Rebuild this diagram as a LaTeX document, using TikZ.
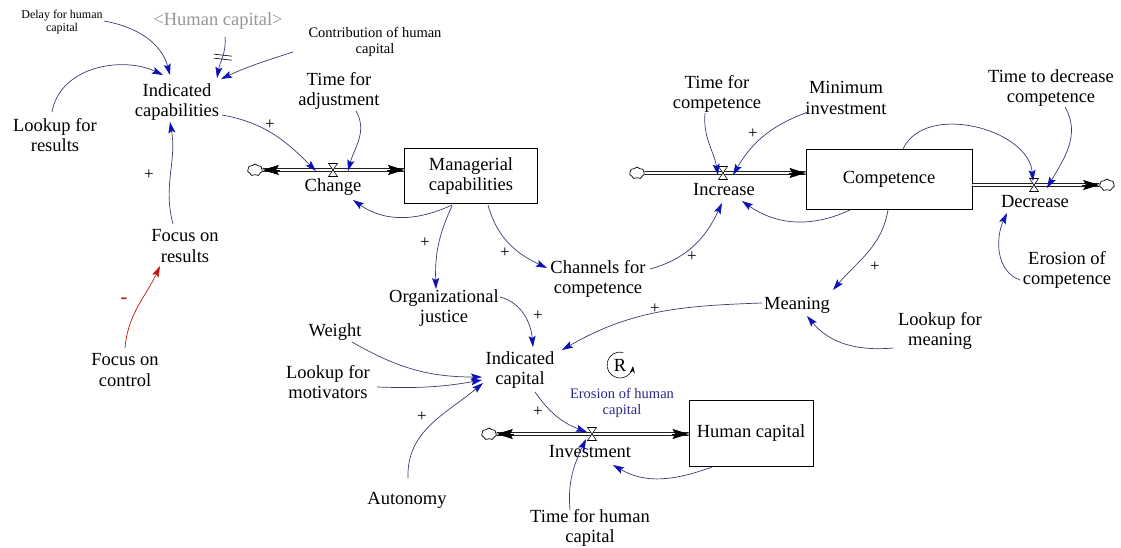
\documentclass[tikz,border=0pt]{standalone}
\usepackage{fontspec}
\setmainfont{LiberationSerif}[Extension=.ttf,UprightFont=*-Regular,BoldFont=*-Bold,ItalicFont=*-Italic,BoldItalicFont=*-BoldItalic]
\usetikzlibrary{arrows.meta,calc,shapes.symbols}

\definecolor{linkc}{RGB}{58,60,112}
\definecolor{tipc}{RGB}{14,18,180}
\definecolor{negc}{RGB}{196,20,20}
\definecolor{shadowc}{RGB}{150,150,150}
\definecolor{flowlabel}{RGB}{40,40,140}

\newcommand{\fbig}{\fontsize{18.5}{20.5}\selectfont}
\newcommand{\fmidsz}{\fontsize{14.5}{16}\selectfont}
\newcommand{\fsmallsz}{\fontsize{12}{13.5}\selectfont}
\newcommand{\fsignsz}{\fontsize{17}{17}\selectfont}

\tikzset{
  var/.style={align=center,font=\rmfamily\fbig,inner sep=1pt},
  midtext/.style={align=center,font=\rmfamily\fmidsz,inner sep=1pt},
  smalltext/.style={align=center,font=\rmfamily\fsmallsz,inner sep=1pt},
  stock/.style={draw,line width=0.8pt,rectangle,align=center,font=\rmfamily\fbig,inner sep=0pt},
  lnk/.style={draw=linkc,line width=0.7pt,-{Stealth[length=11pt,width=7pt,inset=2pt,color=tipc]}},
  neglnk/.style={draw=negc,line width=0.7pt,-{Stealth[length=11pt,width=7pt,inset=2pt,color=negc]}},
  pipe/.style={draw,double,double distance=2.4pt,line width=0.75pt},
  pipetip/.style={line width=0.75pt,-{Stealth[length=16pt,width=10pt,inset=2.5pt]}},
  srccloud/.style={cloud,cloud puffs=7,cloud puff arc=120,aspect=1.2,minimum width=15pt,
    minimum height=12pt,inner sep=0pt,draw,fill=white,line width=0.7pt},
  polarity/.style={font=\rmfamily\fsignsz,inner sep=0pt},
  valve/.pic={\draw[fill=white,line width=0.55pt] (-4.5,6.5)--(4.5,6.5)--(-4.5,-6.5)--(4.5,-6.5)--cycle;}
}

\begin{document}
\begin{tikzpicture}[x=1pt,y=1pt]
\useasboundingbox (0,0) rectangle (1121,-548);

% ---------- variables ----------
\node[smalltext] (dhc) at (62,-22) {Delay for human\\capital};
\node[var,text=shadowc] (hcs) at (218,-21) {<Human capital>};
\node[midtext] (chc) at (375,-42) {Contribution of human\\capital};
\node[var] (icap) at (177,-102) {Indicated\\capabilities};
\node[var] (tfa) at (339,-91) {Time for\\adjustment};
\node[var] (lfr) at (55,-135) {Lookup for\\results};
\node[var] (for) at (185,-246) {Focus on\\results};
\node[var] (foc) at (125,-370) {Focus on\\control};
\node[var] (oj) at (444,-308) {Organizational\\justice};
\node[var] (cfc) at (598,-279) {Channels for\\competence};
\node[var] (mean) at (797,-305) {Meaning};
\node[var] (lfm) at (940,-331) {Lookup for\\meaning};
\node[var] (eoc) at (1067,-270) {Erosion of\\competence};
\node[var] (wt) at (335,-332) {Weight};
\node[var] (icp) at (520,-370) {Indicated\\capital};
\node[var] (lfmo) at (328,-382) {Lookup for\\motivators};
\node[var] (aut) at (407,-500) {Autonomy};
\node[var] (thc) at (590,-528) {Time for human\\capital};
\node[midtext,text=flowlabel] (ehc) at (622,-403) {Erosion of human\\capital};
\node[var] (tfc) at (717,-94) {Time for\\competence};
\node[var] (minv) at (846,-98) {Minimum\\investment};
\node[var] (ttdc) at (1051,-88) {Time to decrease\\competence};

% ---------- stocks ----------
\node[stock,minimum width=133pt,minimum height=55pt] (mc) at (471,-176) {Managerial\\capabilities};
\node[stock,minimum width=166pt,minimum height=60pt] (comp) at (889,-179) {Competence};
\node[stock,minimum width=124pt,minimum height=66pt] (hc) at (751,-433) {Human capital};

% ---------- flows ----------
% Change
\coordinate (vch) at (333,-170);
\node[srccloud] (cl1) at (255,-170) {};
\draw[pipe] (cl1.east) -- (vch -| mc.west);
\draw[pipetip] ($(cl1.east)+(17,0)$) -- (cl1.east);
\draw[pipetip] ($(vch -| mc.west)+(-17,0)$) -- (vch -| mc.west);
\pic at (vch) {valve};
\node[var] (chg) at (333,-187) {Change};

% Increase
\coordinate (vinc) at (723,-173);
\node[srccloud] (cl2) at (637,-173) {};
\draw[pipe] (cl2.east) -- (vinc -| comp.west);
\draw[pipetip] ($(vinc -| comp.west)+(-17,0)$) -- (vinc -| comp.west);
\pic at (vinc) {valve};
\node[var] (inc) at (724,-190) {Increase};

% Decrease
\coordinate (vdec) at (1034,-185);
\node[srccloud] (cl3) at (1107,-185) {};
\draw[pipe] (vdec -| comp.east) -- (cl3.west);
\draw[pipetip] ($(cl3.west)+(-17,0)$) -- (cl3.west);
\pic at (vdec) {valve};
\node[var] (dec) at (1035,-202) {Decrease};

% Investment
\coordinate (vinv) at (592,-434);
\node[srccloud] (cl4) at (489,-434) {};
\draw[pipe] (cl4.east) -- (vinv -| hc.west);
\draw[pipetip] ($(cl4.east)+(17,0)$) -- (cl4.east);
\draw[pipetip] ($(vinv -| hc.west)+(-17,0)$) -- (vinv -| hc.west);
\pic at (vinv) {valve};
\node[var] (inv) at (590,-452) {Investment};

% ---------- causal links ----------
\draw[lnk] ($(dhc)+(42,1)$) to[out=-10,in=105] ($(icap)+(-7,27)$);
\draw[lnk] ($(lfr)+(-3,23)$) to[out=80,in=155] ($(icap)+(-14,27)$);
\draw[lnk] ($(hcs)+(7,-16)$) to[out=-85,in=80] coordinate[pos=0.45] (dly) ($(icap)+(40,24)$);
\draw[line width=0.6pt] ($(dly)+(-9,1.5)$) -- ($(dly)+(9,-0.5)$);
\draw[line width=0.6pt] ($(dly)+(-9,-2.5)$) -- ($(dly)+(9,-4.5)$);
\draw[lnk] ($(chc)+(-82,-10)$) to[out=198,in=25] ($(icap)+(44,23)$);
\draw[lnk] ($(icap)+(45,-13)$) to[out=-10,in=135] ($(vch)+(-17,-1)$);
\draw[lnk] ($(tfa)+(17,-20)$) to[out=-60,in=75] ($(vch)+(15,-1)$);
\draw[lnk] ($(for)+(-12,22)$) to[out=105,in=-80] ($(icap)+(-7,-20)$);
\draw[neglnk] ($(foc)+(0,22)$) to[out=85,in=-115] ($(for)+(-25,-20)$);
\draw[lnk] ($(mc)+(-19,-29)$) to[out=-155,in=-35] ($(vch)+(20,-30)$);
\draw[lnk] ($(mc)+(-19,-30)$) to[out=-115,in=92] ($(oj)+(-8,19)$);
\draw[lnk] ($(mc)+(17,-29)$) to[out=-75,in=155] ($(cfc)+(-51,11)$);
\draw[lnk] ($(cfc)+(52,10)$) to[out=15,in=-115] ($(vinc)+(-1,-30)$);
\draw[lnk] ($(oj)+(56,11)$) to[out=-15,in=95] ($(icp)+(13,23)$);
\draw[lnk] ($(mean)+(-35,2)$) to[out=182,in=30] ($(icp)+(42,20)$);
\draw[lnk] ($(comp)+(-1,-31)$) to[out=-100,in=50] ($(mean)+(36,15)$);
\draw[lnk] ($(lfm)+(-47,-17)$) to[out=185,in=-50] ($(mean)+(10,-11)$);
\draw[lnk] ($(eoc)+(-47,-10)$) to[out=160,in=-115] ($(vdec)+(-27,-28)$);
\draw[lnk] ($(comp)+(14,30)$) to[out=65,in=95] ($(vdec)+(-1,4)$);
\draw[lnk] ($(ttdc)+(14,-19)$) to[out=-60,in=60] ($(vdec)+(13,-3)$);
\draw[lnk] ($(comp)+(-39,-31)$) to[out=-155,in=-35] ($(vinc)+(19,-28)$);
\draw[lnk] ($(tfc)+(-12,-19)$) to[out=-95,in=100] ($(vinc)+(-5,-2)$);
\draw[lnk] ($(minv)+(-38,-14)$) to[out=-160,in=60] ($(vinc)+(10,-2)$);
\draw[lnk] ($(wt)+(17,-10)$) to[out=-30,in=180] ($(icp)+(-38,-7)$);
\draw[lnk] ($(lfmo)+(49,-5)$) to[out=-2,in=190] ($(icp)+(-38,-10)$);
\draw[lnk] ($(aut)+(1,22)$) to[out=92,in=-140] ($(icp)+(-37,-13)$);
\draw[lnk] ($(icp)+(15,-22)$) to[out=-55,in=160] ($(vinv)+(-5,2)$);
\draw[lnk] ($(thc)+(-20,18)$) to[out=95,in=-115] ($(vinv)+(-6,-5)$);
\draw[lnk] ($(hc)+(-39,-34)$) to[out=-160,in=-30] ($(vinv)+(21,-31)$);

% ---------- polarities ----------
\node[polarity] (p1) at (270,-125) {+};
\node[polarity] (p2) at (149,-175) {+};
\node[polarity] (p3) at (425,-243) {+};
\node[polarity] (p4) at (505,-253) {+};
\node[polarity] (p5) at (692,-257) {+};
\node[polarity] (p6) at (538,-316) {+};
\node[polarity] (p7) at (655,-309) {+};
\node[polarity] (p8) at (875,-267) {+};
\node[polarity] (p9) at (753,-134) {+};
\node[polarity] (p10) at (422,-417) {+};
\node[polarity] (p11) at (538,-412) {+};
\node[polarity,text=negc,font=\rmfamily\fontsize{20}{20}\selectfont\bfseries] (m1) at (124,-301) {-};

% ---------- loop marker ----------
\node[var] (loopR) at (620,-365) {R};
\draw[line width=0.6pt,-{Stealth[length=7pt,width=5pt]}]
  ($(loopR)+(75:13)$) arc[start angle=75,end angle=355,radius=13];
\end{tikzpicture}
\end{document}
